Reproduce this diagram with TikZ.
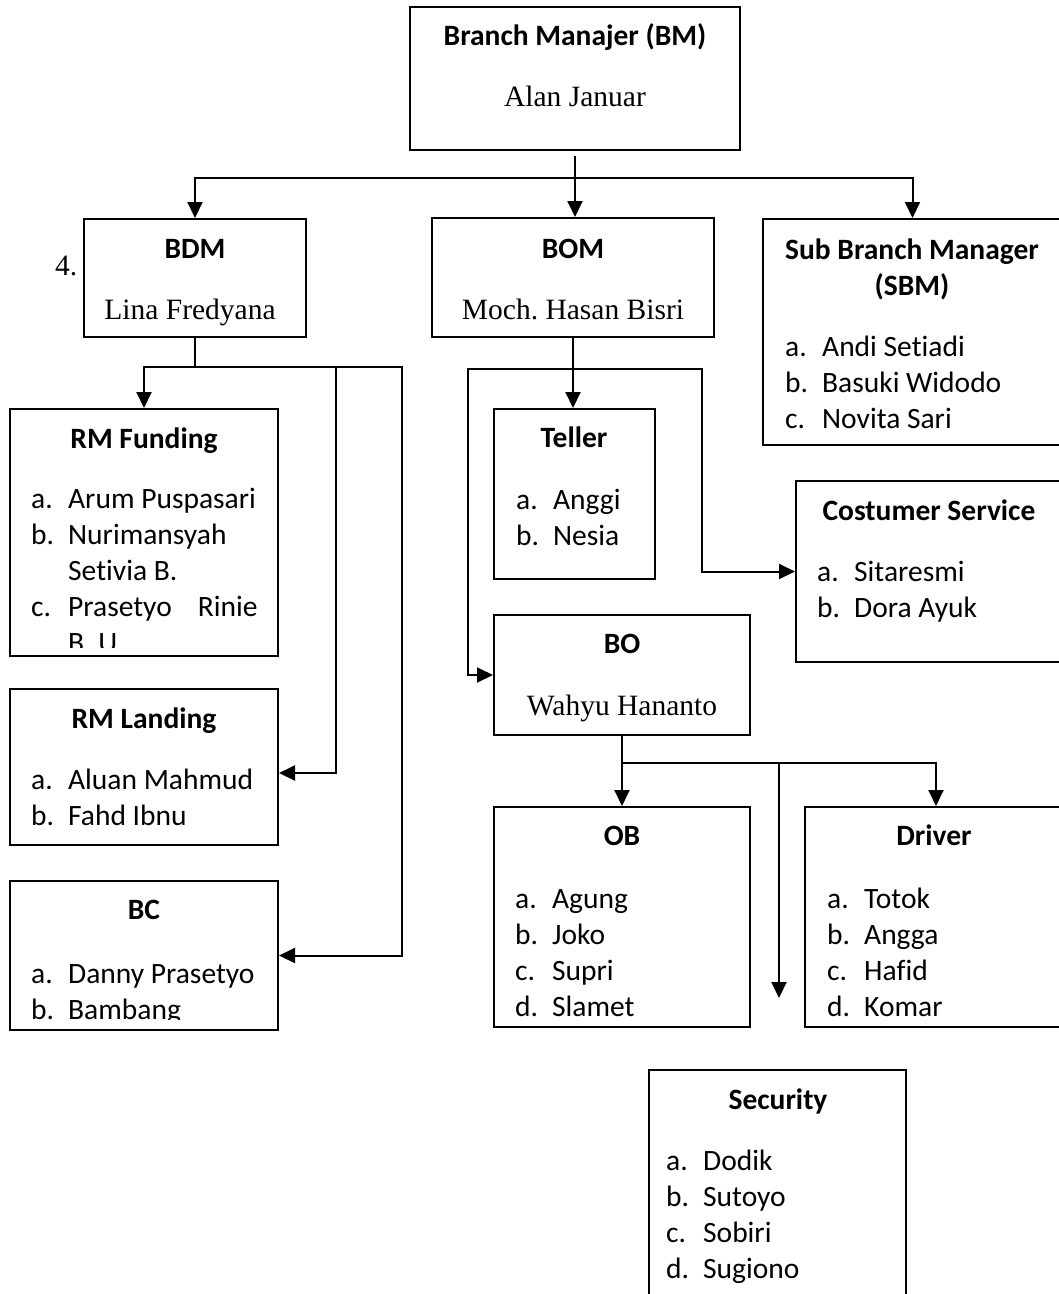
\documentclass[tikz,border=0pt]{standalone}
\usepackage{fontspec}
\newfontfamily\calib[Ligatures={NoCommon,NoContextual}]{Carlito}
\newfontfamily\tnr{Liberation Serif}
\usetikzlibrary{arrows.meta,fit}
\frenchspacing
\newcommand{\staff}[4]{\foreach \lab/\nm [count=\i from 0] in {#4} \node[item] (#1-\i) at (#2,#3+36*\i) {\makebox[37pt][l]{\lab}\nm};}
\begin{document}
\begin{tikzpicture}[x=1pt,y=-1pt,
  box/.style={draw, line width=2pt, inner sep=0pt},
  link/.style={line width=2pt, line cap=rect},
  arr/.style={link, -{Triangle[length=16pt,width=15pt]}},
  head/.style={anchor=base, inner sep=0pt, font=\calib\bfseries\fontsize{29.5}{36}\selectfont},
  who/.style={anchor=base, inner sep=0pt, font=\tnr\fontsize{29.5}{36}\selectfont},
  item/.style={anchor=base west, inner sep=0pt, font=\calib\fontsize{29.5}{36}\selectfont}]
\useasboundingbox (0,0) rectangle (1059,1294);
\fill[white] (0,0) rectangle (1059,1294);
\clip (0,0) rectangle (1059,1294);
\node[box, fit={(410,7) (740,150)}] (bm) {};
\node[box, fit={(84,219) (306,337)}] (bdm) {};
\node[box, fit={(432,218) (714,337)}] (bom) {};
\node[box, fit={(763,219) (1062,445)}] (sbm) {};
\node[box, fit={(10,409) (278,656)}] (rmf) {};
\node[box, fit={(10,689) (278,845)}] (rml) {};
\node[box, fit={(10,881) (278,1030)}] (bc) {};
\node[box, fit={(494,409) (655,579)}] (tel) {};
\node[box, fit={(796,481) (1062,662)}] (cs) {};
\node[box, fit={(494,615) (750,735)}] (bo) {};
\node[box, fit={(494,807) (750,1027)}] (ob) {};
\node[box, fit={(805,807) (1062,1027)}] (drv) {};
\node[box, fit={(649,1070) (906,1310)}] (sec) {};
\node[head] (bm-t) at (575,45) {Branch Manajer (BM)};
\node[who] (bm-n) at (575,106) {Alan Januar};
\node[who, anchor=base west] (four) at (55,275) {4.};
\node[head] (bdm-t) at (195,258) {BDM};
\node[who] (bdm-n) at (190,319) {Lina Fredyana};
\node[head] (bom-t) at (573,258) {BOM};
\node[who] (bom-n) at (573,319) {Moch. Hasan Bisri};
\node[head] (sbm-t) at (912,259) {Sub Branch Manager};
\node[head] (sbm-u) at (912,295) {(SBM)};
\staff{sbm}{785}{356}{a./Andi Setiadi, b./Basuki Widodo, c./Novita Sari}
\node[head] (rmf-t) at (144,448) {RM Funding};
\begin{scope}
\clip (10,409) rectangle (278,647);
\staff{rmf}{31}{508}{a./Arum Puspasari, b./Nurimansyah, /Setivia B., c./{Prasetyo\hspace{26pt}Rinie}, /B. U.}
\end{scope}
\node[head] (rml-t) at (144,728) {RM Landing};
\staff{rml}{31}{789}{a./Aluan Mahmud, b./Fahd Ibnu}
\node[head] (bc-t) at (144,919) {BC};
\begin{scope}
\clip (10,881) rectangle (278,1019);
\staff{bc}{31}{983}{a./Danny Prasetyo, b./Bambang}
\end{scope}
\node[head] (tel-t) at (574,447) {Teller};
\staff{tel}{516}{509}{a./Anggi, b./Nesia}
\node[head] (cs-t) at (929,520) {Costumer Service};
\staff{cs}{817}{581}{a./Sitaresmi, b./Dora Ayuk}
\node[head] (bo-t) at (622,653) {BO};
\node[who] (bo-n) at (622,715) {Wahyu Hananto};
\node[head] (ob-t) at (622,845) {OB};
\staff{ob}{515}{908}{a./Agung, b./Joko, c./Supri, d./Slamet}
\node[head] (drv-t) at (934,845) {Driver};
\staff{drv}{827}{908}{a./Totok, b./Angga, c./Hafid, d./Komar}
\node[head] (sec-t) at (778,1109) {Security};
\staff{sec}{666}{1170}{a./Dodik, b./Sutoyo, c./Sobiri, d./Sugiono}
\coordinate (bmhub) at (575,178);
\coordinate (bdmhub) at (195,367);
\coordinate (rmlturn) at (336,367);
\coordinate (bcturn) at (402,367);
\coordinate (boturn) at (468,369);
\coordinate (csturn) at (702,369);
\coordinate (bohub) at (622,763);
\coordinate (drvturn) at (936,763);
\coordinate (secend) at (779,998);
\draw[arr] ([yshift=-6pt]bm.south) -- (bm.south |- bom.north);
\draw[arr] (sbm.north |- bmhub) -- (bdm.north |- bmhub) -- (bdm.north);
\draw[arr] (sbm.north |- bmhub) -- (sbm.north);
\draw[link] (bdm.south) -- (bdm.south |- bdmhub);
\draw[arr] (bcturn) -- (rmf.north |- bdmhub) -- (rmf.north);
\draw[arr] (rmlturn) |- ([yshift=-6pt]rml.east);
\draw[arr] (bcturn) |- (bc.east);
\draw[arr] (bom.south) -- (bom.south |- tel.north);
\draw[link] (boturn) -- (csturn);
\draw[arr] (boturn) |- (bo.west);
\draw[arr] (csturn) |- (cs.west);
\draw[link] (bo.south) -- (bo.south |- bohub);
\draw[arr] (drvturn) -- (ob.north |- bohub) -- (ob.north);
\draw[arr] (drvturn) -- (drvturn |- drv.north);
\draw[arr] (secend |- bohub) -- (secend);
\end{tikzpicture}
\end{document}
